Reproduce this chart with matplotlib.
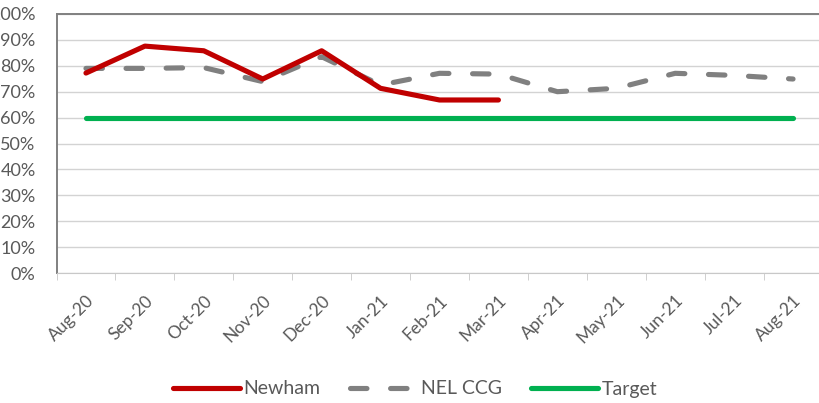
import matplotlib.pyplot as plt
import numpy as np
from matplotlib.ticker import FixedLocator, PercentFormatter

months = ['Aug-20', 'Sep-20', 'Oct-20', 'Nov-20', 'Dec-20', 'Jan-21', 'Feb-21',
          'Mar-21', 'Apr-21', 'May-21', 'Jun-21', 'Jul-21', 'Aug-21']
newham = [77.2, 87.6, 85.8, 74.9, 85.8, 71.3, 66.8, 66.8]
nel_ccg = [79.0, 79.0, 79.3, 73.9, 83.5, 72.6, 77.1, 76.8, 70.0, 71.3, 77.1, 76.3, 74.9]
target = [60] * 13

plt.rcParams['font.family'] = ['Lato', 'DejaVu Sans']

fig = plt.figure(figsize=(8.19, 4.03), dpi=100)
# plot area runs past the right edge of the picture, as in the original crop
ax = fig.add_axes([56.5 / 819, 1 - 273 / 403, 766 / 819, 259 / 403])

x = np.arange(len(months))
ax.plot(x[:len(newham)], newham, color='#C00000', lw=3.7, solid_capstyle='round',
        solid_joinstyle='round', label='Newham', zorder=3)
ax.plot(x, nel_ccg, color='#808080', lw=3.7, dashes=(3.2, 4.6), dash_capstyle='round',
        solid_joinstyle='round', label='NEL CCG', zorder=2)
ax.plot(x, target, color='#00B050', lw=3.7, solid_capstyle='round', label='Target', zorder=2)

ax.set_xlim(-0.5, len(months) - 0.5)
ax.set_ylim(0, 100)
ax.yaxis.set_major_locator(FixedLocator(np.arange(0, 101, 10)))
ax.yaxis.set_major_formatter(PercentFormatter(decimals=0))
ax.set_xticks(x)
ax.set_xticklabels(months, rotation=45, ha='right', rotation_mode='anchor')
ax.set_xticks(np.arange(-0.5, len(months), 1), minor=True)
ax.tick_params(axis='x', which='major', length=0, pad=14, labelsize=12.5, colors='#595959')
ax.tick_params(axis='x', which='minor', length=5, color='#C8C8C8')
ax.tick_params(axis='y', length=0, pad=15, labelsize=13, colors='#595959')

ax.grid(axis='y', color='#D3D3D3', lw=1, zorder=0)
ax.set_axisbelow(True)
ax.spines['right'].set_visible(False)
ax.spines['bottom'].set_color('#C8C8C8')
for s in ['left', 'top']:
    ax.spines[s].set_color('#808080')
    ax.spines[s].set_linestyle((0, (1, 1)))
    ax.spines[s].set_linewidth(1.4)

fig.legend(loc='center', bbox_to_anchor=(415 / 819, 1 - 389 / 403), ncol=3, frameon=False,
           fontsize=14, handlelength=3.45, columnspacing=1.5, handletextpad=0.2,
           labelcolor='#595959')

plt.savefig('out.png', dpi=100)
plt.close()
